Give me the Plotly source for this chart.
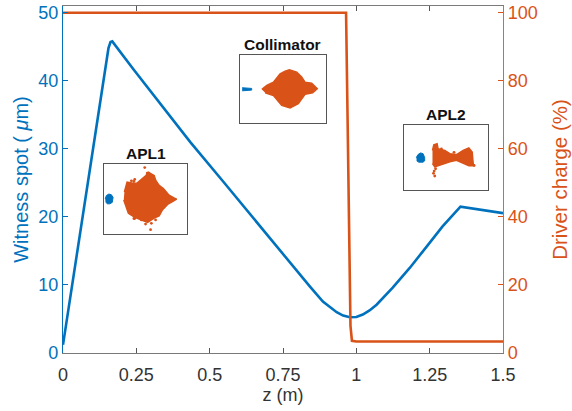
import plotly.graph_objects as go

BLUE = "#0072BD"
ORANGE = "#D95319"
GREY = "#7a7a7a"
FONT = "Liberation Sans, Arial, sans-serif"

# main curves
z_spot = [0, 0.148, 0.155, 0.162, 0.168, 0.24, 0.354, 0.434, 0.546, 0.661, 0.774, 0.842, 0.886, 0.933, 0.955, 0.978, 1.0, 1.022, 1.045, 1.069, 1.124, 1.182, 1.239, 1.294, 1.355, 1.5]
spot = [1.2, 42.3, 44.8, 45.7, 45.8, 41.7, 35.4, 31.0, 25.2, 19.2, 13.2, 9.75, 7.55, 6.0, 5.5, 5.25, 5.3, 5.65, 6.25, 7.1, 9.6, 12.5, 15.6, 18.6, 21.5, 20.55]
z_charge = [0, 0.5, 0.965, 0.97, 0.975, 0.98, 0.985, 1.0, 1.5]
charge = [100, 100, 100, 70, 35, 8, 3.6, 3.4, 3.4]

xticks = [0, 0.25, 0.5, 0.75, 1, 1.25, 1.5]
xticklabels = ["0", "0.25", "0.5", "0.75", "1", "1.25", "1.5"]
yticks = [0, 10, 20, 30, 40, 50]
y2ticks = [0, 20, 40, 60, 80, 100]

# inset beam outlines (arbitrary transverse units)
apl1_x = [24.6, 27.8, 36.5, 39.7, 44.4, 50.4, 53.2, 56.3, 60.3, 62.3, 66.3, 71.4, 78.2, 84.1, 87.3, 83.3, 77, 70.2, 66.3, 60.3, 52.4, 44.4, 36.5, 29.4, 25.4, 23.8]
apl1_y = [60, 74, 72, 72.8, 77.5, 83.6, 88.3, 86, 83.6, 76.5, 69.5, 64.8, 55.4, 51.6, 49.8, 47, 42.7, 34.3, 25.8, 22.5, 16.4, 20.2, 24, 29.6, 41.3, 48.4]
apl1_sx = [49, 52, 54, 37, 36, 37, 56, 36, 45, 57, 33, 50, 62]
apl1_sy = [95, 87, 87, 78, 75, 22, 6, 22, 20, 15, 76, 14, 20]
apl1_bx = [1.5, 3, 6, 9, 11, 10, 7, 4, 2]
apl1_by = [50, 55, 57, 56, 52, 45, 43, 43, 46]

col_x = [25.8, 31.5, 39.2, 46.9, 52.7, 57.7, 66.2, 71.9, 75.8, 83.5, 90, 84.6, 75.8, 68, 58.5, 48.8, 39.2, 29.6]
col_y = [49, 54.9, 59.8, 72, 76, 77.9, 74.5, 67.2, 59.8, 58.3, 50, 44, 41.7, 28, 21.6, 25.5, 40, 44]
col_bx = [3, 8, 14, 14, 8, 3]
col_by = [51.5, 51.5, 50.5, 48, 47, 47]

apl2_x = [34.3, 35.9, 39.8, 41, 49, 55, 63, 70.9, 77.7, 81.7, 82.9, 83.7, 77.7, 70.9, 63, 55, 49, 43, 37, 34.3]
apl2_y = [61, 69.5, 71, 63.5, 61, 56, 54.5, 61, 64.5, 58.5, 41, 37.5, 37.5, 41, 46, 43.5, 41, 38.5, 36, 41]
apl2_sx = [36.3, 37, 35.5, 38, 84, 45, 60]
apl2_sy = [29.5, 22, 26, 33, 38, 63, 58]
apl2_bx = [15, 17, 20, 23, 25, 25, 23, 18, 15.5]
apl2_by = [50, 54.5, 57, 56, 50, 45, 43, 43, 45]

W, H = 572, 411
L, R, T, B = 62.5, 503.5, 5.5, 353.5

fig = go.Figure()
fig.add_trace(go.Scatter(x=z_spot, y=spot, mode="lines", line=dict(color=BLUE, width=2.6), yaxis="y", showlegend=False))
fig.add_trace(go.Scatter(x=z_charge, y=charge, mode="lines", line=dict(color=ORANGE, width=2.6), yaxis="y2", showlegend=False))


def inset(n, box, title, ox, oy, bx, by, sx=None, sy=None):
    xa, ya = f"x{n}", f"y{n}"
    fig.add_trace(go.Scatter(x=ox, y=oy, xaxis=xa, yaxis=ya, mode="lines", fill="toself", fillcolor=ORANGE,
                             line=dict(color=ORANGE, width=1.5), showlegend=False))
    fig.add_trace(go.Scatter(x=bx, y=by, xaxis=xa, yaxis=ya, mode="lines", fill="toself", fillcolor=BLUE,
                             line=dict(color=BLUE, width=1), showlegend=False))
    if sx:
        fig.add_trace(go.Scatter(x=sx, y=sy, xaxis=xa, yaxis=ya, mode="markers",
                                 marker=dict(color=ORANGE, size=2.8), showlegend=False))
    x0, y0, x1, y1 = box
    fx0, fx1 = (x0 - L) / (R - L), (x1 - L) / (R - L)
    fy0, fy1 = (B - y1) / (B - T), (B - y0) / (B - T)
    ax = dict(range=[0, 100], showticklabels=False, ticks="", showgrid=False, zeroline=False,
              showline=True, mirror=True, linecolor="#555555", linewidth=1.2)
    fig.update_layout({
        f"xaxis{n}": dict(ax, domain=[fx0, fx1], anchor=ya),
        f"yaxis{n}": dict(ax, domain=[fy0, fy1], anchor=xa),
    })
    fig.add_annotation(x=(fx0 + fx1) / 2, y=fy1 + 1 / (B - T), xref="paper", yref="paper", text=f"<b>{title}</b>",
                       showarrow=False, yanchor="bottom", xanchor="center",
                       font=dict(family=FONT, size=15.5, color="#111111"), borderpad=0)


inset(3, (103.5, 164, 187, 234), "APL1", apl1_x, apl1_y, apl1_bx, apl1_by, apl1_sx, apl1_sy)
inset(4, (239.5, 54.5, 326, 122.5), "Collimator", col_x, col_y, col_bx, col_by)
inset(5, (404, 124.5, 488, 190.5), "APL2", apl2_x, apl2_y, apl2_bx, apl2_by, apl2_sx, apl2_sy)

fig.update_layout(
    width=W, height=H,
    margin=dict(l=L, r=W - R, t=T, b=H - B, autoexpand=False),
    paper_bgcolor="white", plot_bgcolor="white",
    font=dict(family=FONT, size=18),
    xaxis=dict(range=[0, 1.5], domain=[0, 1], tickvals=xticks, ticktext=xticklabels, ticks="inside", ticklen=5,
               tickcolor="#555555", tickwidth=1, showline=True, linecolor=GREY, linewidth=1.2, mirror="ticks",
               showgrid=False, zeroline=False, tickfont=dict(size=18, color="#333333"), ticklabelstandoff=5,
               title=dict(text="z (m)", font=dict(size=18, color="#333333"), standoff=4)),
    yaxis=dict(range=[0, 51], tickvals=yticks, ticks="inside", ticklen=5, tickcolor=BLUE, tickwidth=1,
               showline=True, linecolor=BLUE, linewidth=1.2, showgrid=False, zeroline=False,
               tickfont=dict(size=18, color=BLUE),
               title=dict(text="Witness spot ( <i>\u03bc</i>m)", font=dict(size=20, color=BLUE), standoff=4)),
    yaxis2=dict(range=[0, 102], tickvals=y2ticks, overlaying="y", side="right", ticks="inside", ticklen=5,
                tickcolor=ORANGE, tickwidth=1, showline=True, linecolor="#a87868", linewidth=1.2,
                showgrid=False, zeroline=False, tickfont=dict(size=18, color=ORANGE),
                title=dict(text="Driver charge (%)", font=dict(size=20.5, color=ORANGE), standoff=15)),
)

fig.write_html("out.html", post_script="document.body.style.margin='0';", config={"displayModeBar": False})
